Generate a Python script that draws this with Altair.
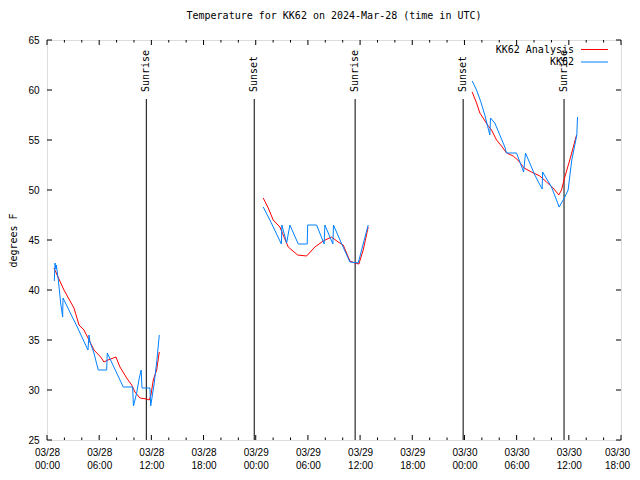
import altair as alt
import pandas as pd

START = pd.Timestamp("2024-03-28T00:00:00")

# KK62 Analysis (red): segment id, hours since 03/28 00:00 UTC, degrees F
ana_seg = [1]*22 + [2]*18 + [3]*21
ana_hours = [0.80, 1.95, 3.10, 3.68, 4.25, 4.83, 5.40, 6.17, 6.55, 7.01, 7.93, 8.39,
             9.16, 9.74, 10.11, 10.69, 11.46, 11.76, 11.95, 12.22, 12.61, 12.91,
             24.86, 25.44, 26.01, 26.78, 27.16, 27.74, 28.82, 29.85, 30.80, 31.76,
             32.72, 33.48, 34.06, 34.83, 35.40, 35.86, 36.36, 36.93,
             48.89, 49.39, 49.77, 50.15, 50.66, 51.11, 51.69, 52.26, 52.84, 53.60,
             54.14, 54.86, 55.71, 56.67, 57.44, 58.20, 58.85, 59.16, 59.54, 60.11, 60.89]
ana_temp = [42.2, 40.0, 38.2, 36.5, 36.0, 35.0, 34.0, 33.3, 32.8, 33.0, 33.3, 32.3,
            31.2, 30.5, 29.8, 29.2, 29.1, 29.0, 29.5, 31.0, 32.0, 33.8,
            49.2, 48.2, 47.0, 46.3, 45.5, 44.3, 43.5, 43.4, 44.3, 44.9,
            45.3, 44.8, 44.5, 42.9, 42.7, 42.6, 44.0, 46.3,
            59.8, 58.7, 57.7, 57.2, 56.5, 56.0, 55.0, 54.4, 53.7, 53.4,
            53.0, 52.2, 51.8, 51.4, 50.8, 50.2, 49.5, 50.0, 51.3, 53.0, 55.5]

# KK62 observations (blue)
obs_seg = [1]*31 + [2]*18 + [3]*23
obs_hours = [0.84, 0.92, 1.03, 1.07, 1.30, 1.46, 1.57, 1.69, 1.80, 1.84, 3.48, 4.71,
             4.83, 4.94, 5.40, 5.60, 5.90, 6.86, 6.93, 8.77, 9.85, 9.94, 10.31, 10.61,
             10.83, 10.92, 11.84, 11.92, 12.30, 12.64, 12.91,
             24.86, 25.63, 26.95, 27.01, 27.55, 27.93, 28.89, 29.92, 29.97, 31.00,
             31.87, 31.95, 32.87, 32.94, 33.79, 34.83, 35.78, 36.93,
             48.89, 49.39, 49.89, 50.34, 50.92, 51.00, 51.49, 52.07, 52.64, 52.84,
             53.99, 54.80, 55.02, 56.09, 56.93, 56.99, 58.01, 58.89, 59.54, 59.92,
             60.34, 60.92, 61.00]
obs_temp = [40.9, 42.7, 42.1, 42.5, 41.0, 39.7, 38.7, 38.0, 37.3, 39.2, 36.3, 34.0,
            35.5, 34.8, 33.7, 33.0, 32.0, 32.0, 33.7, 30.3, 30.3, 28.4, 29.7, 31.2,
            32.0, 30.2, 30.2, 28.4, 30.5, 33.0, 35.5,
            48.3, 47.0, 44.6, 46.5, 44.7, 46.5, 44.6, 44.6, 46.5, 46.5,
            44.6, 46.5, 44.6, 46.5, 44.8, 42.8, 42.7, 46.5,
            60.9, 60.0, 58.8, 57.5, 55.5, 57.2, 56.7, 55.5, 54.3, 53.7,
            53.7, 51.8, 53.7, 51.5, 50.1, 51.8, 50.3, 48.3, 49.3, 50.0,
            53.0, 55.5, 57.3]

# sunrise / sunset markers
sun_hours = [11.42, 23.83, 35.43, 47.85, 59.45]
sun_labels = ["Sunrise", "Sunset", "Sunrise", "Sunset", "Sunrise"]

y_ticks = [25, 30, 35, 40, 45, 50, 55, 60, 65]
x_label_hours = list(range(0, 67, 6))
x_minor_hours = [h for h in range(0, 67, 2) if h % 6 != 0]

FONT = "DejaVu Sans Mono"
FS = 10
W, H = 574, 400


def iso(h):
    return (START + pd.Timedelta(hours=h)).strftime("%Y-%m-%dT%H:%M:%SZ")


def ms(h):
    return int((START.tz_localize("UTC") + pd.Timedelta(hours=h)).timestamp() * 1000)


ana = pd.DataFrame({"seg": ana_seg, "t": [iso(h) for h in ana_hours], "v": ana_temp})
obs = pd.DataFrame({"seg": obs_seg, "t": [iso(h) for h in obs_hours], "v": obs_temp})
sun = pd.DataFrame({"t": [iso(h) for h in sun_hours], "label": sun_labels})
xmaj = pd.DataFrame({"t": [iso(h) for h in x_label_hours]})
xmin = pd.DataFrame({"t": [iso(h) for h in x_minor_hours]})
yt = pd.DataFrame({"v": y_ticks})
one = pd.DataFrame({"a": [0]})

xscale = alt.Scale(type="utc", domain=[ms(0), ms(66)])
yscale = alt.Scale(domain=[25, 65], nice=False, zero=False)

xaxis = alt.Axis(
    values=[ms(h) for h in x_label_hours],
    labelExpr="[utcFormat(datum.value, '%m/%d'), utcFormat(datum.value, '%H:%M')]",
    ticks=False, domain=False, grid=False, title=None,
    labelPadding=7, labelLineHeight=13, labelOverlap=False, labelFlush=False,
    labelAngle=0, labelBaseline="top",
    labelOffset={"condition": {"test": "datum.index === 1", "value": -4}, "value": 0},
)
yaxis = alt.Axis(
    values=y_ticks, ticks=False, domain=False, grid=False,
    title="degrees F", titleAngle=270, titleX=-34, titleY=H / 2,
    titleAlign="center", titleBaseline="middle",
    titleFont=FONT, titleFontSize=FS, titleFontWeight="normal", titleColor="black",
    labelPadding=8, labelOverlap=False, labelFlush=False,
)

X = alt.X("t:T", scale=xscale, axis=xaxis)
Y = alt.Y("v:Q", scale=yscale, axis=yaxis)

red_line = alt.Chart(ana).mark_line(color="#ff0000", strokeWidth=1, interpolate="linear").encode(
    x=X, y=Y, detail="seg:N", order="t:T")
blue_line = alt.Chart(obs).mark_line(color="#0080ff", strokeWidth=1, interpolate="linear").encode(
    x=X, y=Y, detail="seg:N", order="t:T")

sun_rules = alt.Chart(sun).mark_rule(color="black", strokeWidth=1).encode(
    x=X, y=alt.value(59), y2=alt.value(H))
sun_text = alt.Chart(sun).mark_text(
    angle=270, align="left", baseline="middle", font=FONT, fontSize=FS, color="black"
).encode(x=X, y=alt.value(52), text="label:N")

# inward ticks (bottom/top mirrored, left/right mirrored)
xmaj_b = alt.Chart(xmaj).mark_rule(color="black").encode(x=X, y=alt.value(H - 5), y2=alt.value(H))
xmaj_t = alt.Chart(xmaj).mark_rule(color="black").encode(x=X, y=alt.value(0), y2=alt.value(5))
xmin_b = alt.Chart(xmin).mark_rule(color="black").encode(x=X, y=alt.value(H - 2.5), y2=alt.value(H))
xmin_t = alt.Chart(xmin).mark_rule(color="black").encode(x=X, y=alt.value(0), y2=alt.value(2.5))
y_l = alt.Chart(yt).mark_rule(color="black").encode(y=Y, x=alt.value(0), x2=alt.value(5))
y_r = alt.Chart(yt).mark_rule(color="black").encode(y=Y, x=alt.value(W - 5), x2=alt.value(W))

# legend (gnuplot style: label then sample)
leg_t1 = alt.Chart(one).mark_text(align="right", baseline="middle", font=FONT, fontSize=FS).encode(
    x=alt.value(527), y=alt.value(9.5), text=alt.value("KK62 Analysis"))
leg_t2 = alt.Chart(one).mark_text(align="right", baseline="middle", font=FONT, fontSize=FS).encode(
    x=alt.value(527), y=alt.value(22), text=alt.value("KK62"))
leg_l1 = alt.Chart(one).mark_rule(color="#ff0000").encode(
    x=alt.value(534), x2=alt.value(561), y=alt.value(9.5))
leg_l2 = alt.Chart(one).mark_rule(color="#0080ff").encode(
    x=alt.value(534), x2=alt.value(561), y=alt.value(22))

chart = alt.layer(
    y_l, y_r, xmaj_b, xmaj_t, xmin_b, xmin_t,
    sun_rules, sun_text, red_line, blue_line,
    leg_t1, leg_t2, leg_l1, leg_l2,
).properties(
    width=W, height=H,
    title=alt.TitleParams("Temperature for KK62 on 2024-Mar-28 (time in UTC)",
                          font=FONT, fontSize=FS, fontWeight="normal", anchor="middle",
                          frame="group", offset=14, color="black"),
    padding={"left": 39, "top": 32, "right": 11, "bottom": 32},
    autosize="none",
).configure_view(
    stroke="black", strokeWidth=1
).configure_axis(
    labelFont=FONT, labelFontSize=FS, labelColor="black",
    titleFont=FONT, titleFontSize=FS, titleFontWeight="normal", titleColor="black",
).configure(background="white")

chart.save("out.html", embed_options={"renderer": "svg", "actions": False})
